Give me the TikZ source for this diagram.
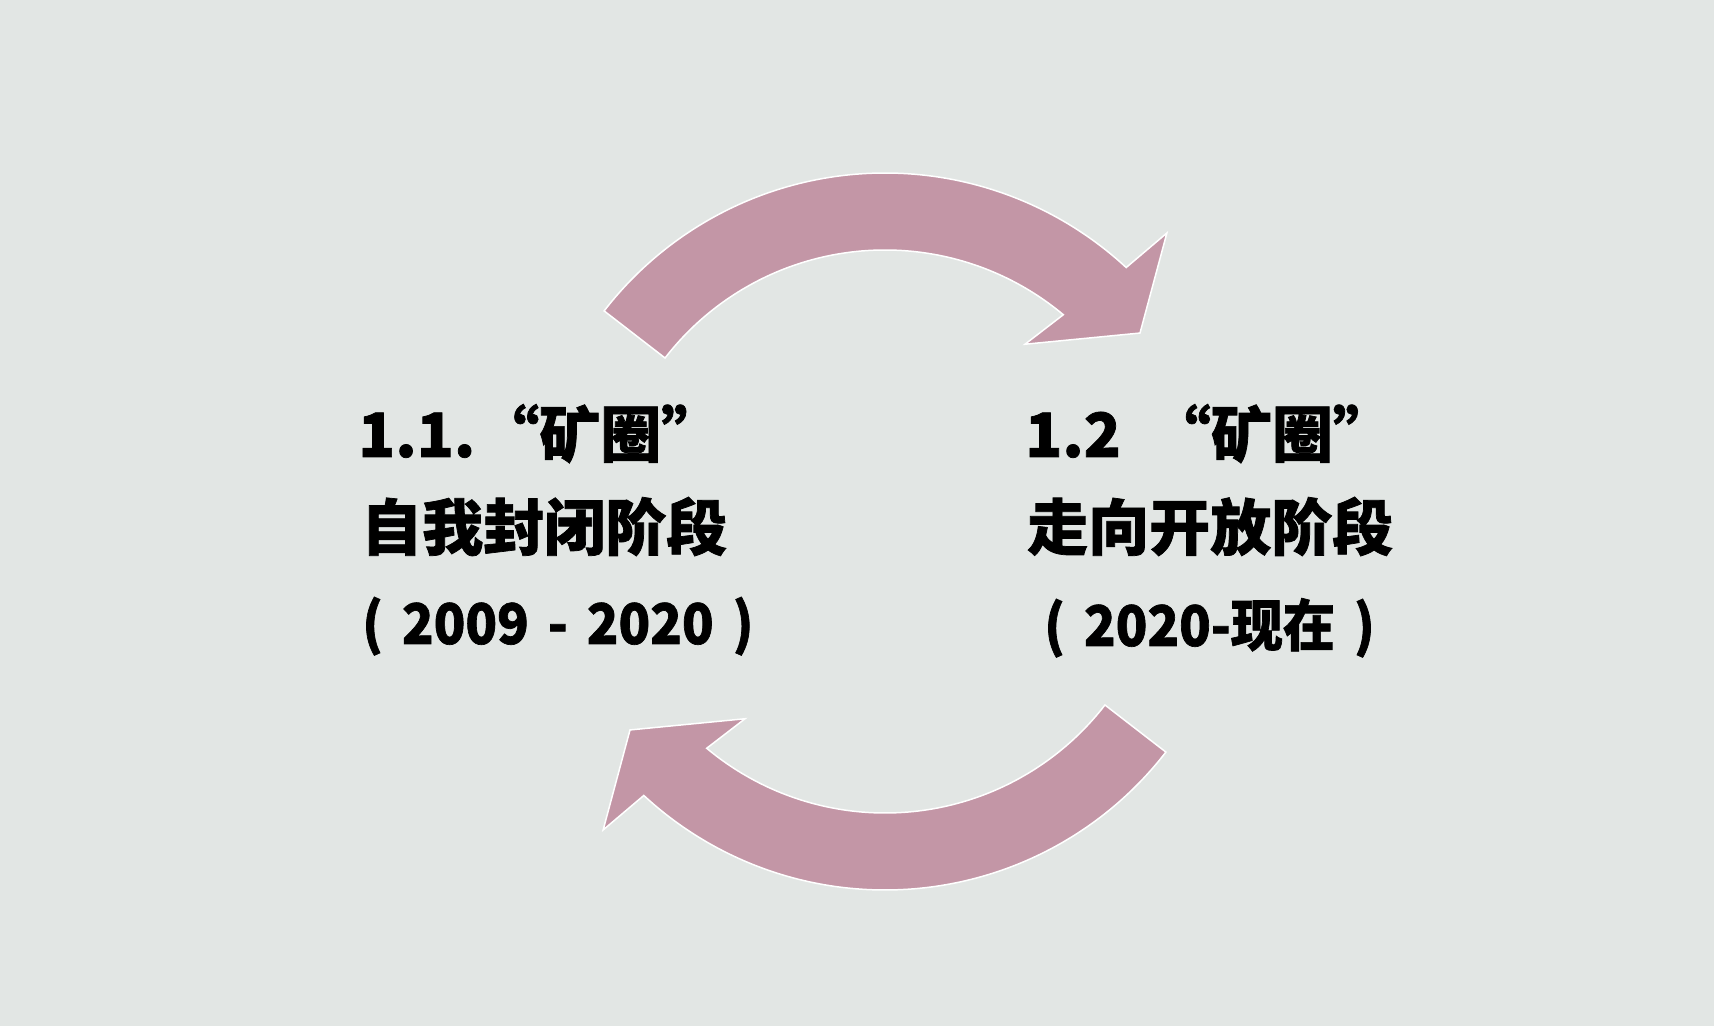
\documentclass[tikz,border=0pt]{standalone}
\usepackage{fontspec}
\newfontfamily\cjkfont{Noto Sans CJK SC}[BoldFeatures={FakeBold=1.2}]
\newfontfamily\yearfont{Noto Sans CJK SC}[FakeStretch=0.93, BoldFeatures={FakeBold=1.2}]
\definecolor{bgGrey}{HTML}{E2E6E4}
\definecolor{arrowMauve}{HTML}{C396A6}

\begin{document}
\begin{tikzpicture}[
    x=1pt, y=1pt,
    stagetext/.style={anchor=base west, inner sep=0pt,
        font=\cjkfont\bfseries\fontsize{61}{70}\selectfont},
    yeartext/.style={anchor=base west, inner sep=0pt,
        font=\yearfont\bfseries\fontsize{56}{64}\selectfont},
    loopArrow/.style={fill=arrowMauve, draw=white, line width=1.5pt, line join=miter}
]
    \fill[bgGrey] (0,0) rectangle (1714,1026);
    \useasboundingbox (0,0) rectangle (1714,1026);
    % upper arrow, clockwise to the right
    \begin{scope}[shift={(885,498)}]
        \path[loopArrow] (142.3:355) arc[start angle=142.3, end angle=47.2, radius=355]
            -- (46.3:408) -- (37.4:321) -- (52.7:231) -- (50.1:278)
            arc[start angle=50.1, end angle=142.3, radius=278] -- cycle;
    \end{scope}
    % lower arrow, clockwise to the left
    \begin{scope}[shift={(885,491)}]
        \path[loopArrow] (322.3:355) arc[start angle=322.3, end angle=227.2, radius=355]
            -- (226.3:408) -- (217.4:321) -- (232.7:231) -- (230.1:278)
            arc[start angle=230.1, end angle=322.3, radius=278] -- cycle;
    \end{scope}
    \node[stagetext] (closedNo) at (358,569) {1.1.\hspace{3pt}“矿圈”};
    \node[stagetext] (closedName) at (361,476) {自我封闭阶段};
    \node[yeartext] (closedYears) at (362,382) {(\hspace{19pt}2009\hspace{19pt}-\hspace{19pt}2020\hspace{19pt})};
    \node[stagetext] (openNo) at (1025,569) {1.2\hspace{29pt}“矿圈”};
    \node[stagetext] (openName) at (1027,476) {走向开放阶段};
    \node[yeartext] (openYears) at (1044,380) {(\hspace{19pt}2020-现在\hspace{19pt})};
\end{tikzpicture}
\end{document}
